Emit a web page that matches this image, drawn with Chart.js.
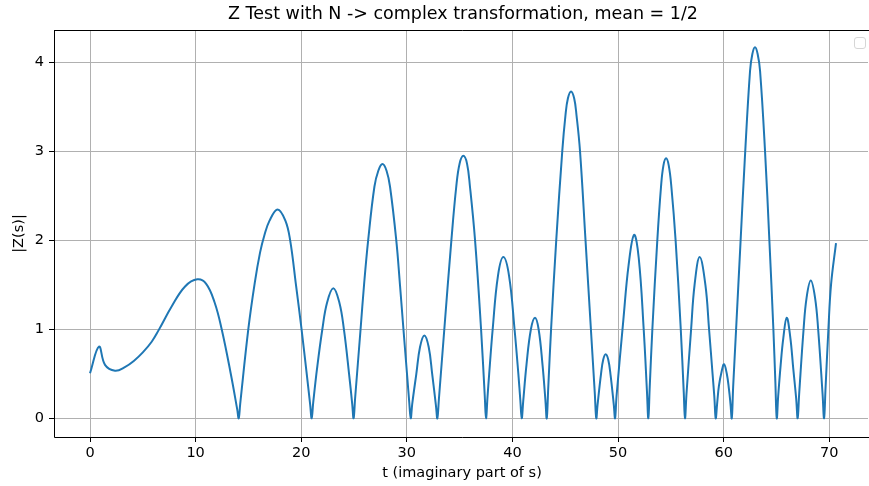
<!DOCTYPE html>
<html>
<head>
<meta charset="utf-8">
<script src="https://cdn.jsdelivr.net/npm/chart.js@4"></script>
<style>
  html, body { margin: 0; padding: 0; background: #fff; }
  #wrap { width: 869px; height: 486px; }
</style>
</head>
<body>
<div id="wrap"><canvas id="zChart" width="869" height="486"></canvas></div>
<script>
// values (t, |Z|)
const tValues = [
  0, 0.85, 1.42, 2.37, 3.3, 4.2, 5.0, 5.84, 6.5, 7.73, 9.0, 10.16, 11.0, 11.8, 12.47, 13.32, 13.94, 14.08,
  14.22, 14.99, 15.6, 16.1, 16.5, 17.0, 17.77, 18.5, 18.95, 19.5, 20.03, 20.5, 20.85, 20.99,
  21.13, 21.5, 22.0, 22.45, 23.04, 23.61, 24.04, 24.53, 24.83, 24.96,
  25.1, 25.62, 25.95, 26.34, 26.93, 27.3, 27.69, 28.08, 28.41, 29.0, 29.35, 29.68, 30.05, 30.23, 30.37,
  30.51, 30.9, 31.25, 31.66, 32.07, 32.4, 32.76, 32.89,
  33.04, 33.55, 34.22, 34.68, 35.0, 35.35, 35.7, 35.98, 36.46, 37.03, 37.38, 37.5,
  37.64, 37.8, 38.13, 38.63, 39.14, 39.68, 40.2, 40.56, 40.75, 40.88,
  41.02, 41.33, 41.75, 42.14, 42.48, 42.85, 43.12, 43.25,
  43.39, 43.66, 44.15, 44.72, 45.02, 45.25, 45.55, 45.85, 46.07, 46.4, 46.92, 47.43, 47.8, 47.94,
  48.06, 48.39, 48.6, 48.83, 49.07, 49.3, 49.6, 49.72,
  49.86, 50.5, 51.0, 51.52, 51.96, 52.43, 52.74, 52.87,
  53.0, 53.25, 53.72, 54.07, 54.3, 54.55, 54.8, 55.05, 55.45, 55.94, 56.22, 56.34,
  56.48, 56.92, 57.25, 57.73, 58.27, 58.62, 58.95, 59.12, 59.25,
  59.38, 59.55, 59.8, 60.04, 60.3, 60.5, 60.65, 60.77,
  60.9, 61.18, 61.6, 62.0, 62.5, 62.72, 62.97, 63.22, 63.45, 63.92, 64.33, 64.71, 64.9, 65.03,
  65.16, 65.4, 65.65, 65.97, 66.3, 66.6, 66.87, 67.01,
  67.15, 67.57, 67.85, 68.25, 68.66, 68.95, 69.37, 69.51,
  69.65, 69.92, 70.17, 70.64
];
const zValues = [
  0.506, 0.805, 0.60, 0.535, 0.575, 0.65, 0.74, 0.86, 0.99, 1.255, 1.48, 1.56, 1.51, 1.30, 1.0, 0.506, 0.1, 0,
  0.16, 1.0, 1.52, 1.86, 2.05, 2.22, 2.345, 2.22, 2.0, 1.5, 1.0, 0.52, 0.15, 0,
  0.17, 0.56, 1.0, 1.3, 1.46, 1.3, 1.0, 0.5, 0.16, 0,
  0.22, 1.0, 1.5, 2.0, 2.6, 2.78, 2.855, 2.78, 2.6, 2.0, 1.5, 1.0, 0.45, 0.18, 0,
  0.16, 0.5, 0.8, 0.93, 0.8, 0.5, 0.14, 0,
  0.22, 1.0, 2.0, 2.6, 2.86, 2.947, 2.86, 2.6, 2.0, 1.0, 0.25, 0,
  0.24, 0.5, 1.0, 1.6, 1.81, 1.6, 1.0, 0.5, 0.2, 0,
  0.19, 0.6, 1.0, 1.13, 1.0, 0.6, 0.21, 0,
  0.34, 1.0, 2.0, 3.0, 3.4, 3.59, 3.67, 3.59, 3.4, 3.0, 2.0, 1.0, 0.28, 0,
  0.15, 0.5, 0.66, 0.72, 0.66, 0.48, 0.15, 0,
  0.25, 1.1, 1.72, 2.06, 1.8, 1.0, 0.3, 0,
  0.35, 1.0, 2.0, 2.6, 2.84, 2.92, 2.84, 2.6, 2.0, 1.0, 0.3, 0,
  0.27, 1.0, 1.5, 1.81, 1.5, 1.0, 0.5, 0.24, 0,
  0.16, 0.36, 0.52, 0.607, 0.5, 0.33, 0.16, 0,
  0.35, 1.0, 1.98, 2.9, 3.9, 4.09, 4.165, 4.09, 3.9, 3.0, 2.0, 1.0, 0.4, 0,
  0.24, 0.6, 0.9, 1.13, 0.92, 0.55, 0.22, 0,
  0.27, 1.0, 1.35, 1.546, 1.35, 1.0, 0.27, 0,
  0.34, 1.0, 1.5, 1.966
];
const xTicks = [0, 10, 20, 30, 40, 50, 60, 70];
const yTicks = [0, 1, 2, 3, 4];

const titleText = 'Z Test with N -> complex transformation, mean = 1/2';
const xLabel = 't (imaginary part of s)';
const yLabel = '|Z(s)|';

const points = tValues.map((t, i) => ({ x: t, y: zValues[i] }));

// title, axis labels, frame and the empty legend box
const decorations = {
  id: 'decorations',
  afterDraw(chart) {
    const { ctx, chartArea: a } = chart;
    ctx.save();
    ctx.fillStyle = '#000';
    ctx.textAlign = 'center';
    ctx.textBaseline = 'middle';
    ctx.font = '17.5px "DejaVu Sans"';
    ctx.fillText(titleText, 463, 14);
    ctx.font = '14.5px "DejaVu Sans"';
    ctx.fillText(xLabel, 462, 473);
    ctx.translate(19, (a.top + a.bottom) / 2);
    ctx.rotate(-Math.PI / 2);
    ctx.fillText(yLabel, 0, 0);
    ctx.restore();

    ctx.save();
    ctx.strokeStyle = '#000';
    ctx.lineWidth = 1;
    ctx.beginPath();
    ctx.moveTo(a.left + 0.5, a.top + 0.5);
    ctx.lineTo(a.right + 5, a.top + 0.5);
    ctx.moveTo(a.left + 0.5, a.top);
    ctx.lineTo(a.left + 0.5, a.bottom + 0.5);
    ctx.lineTo(a.right + 5, a.bottom + 0.5);
    ctx.stroke();

    ctx.strokeStyle = '#d6d6d6';
    ctx.fillStyle = 'rgba(255,255,255,0.8)';
    ctx.beginPath();
    ctx.roundRect(854.5, 37.5, 11, 11, 2.5);
    ctx.fill();
    ctx.stroke();
    ctx.restore();
  }
};

const ctx = document.getElementById('zChart').getContext('2d');
const zChart = new Chart(ctx, {
  type: 'line',
  data: {
    datasets: [{
      data: points,
      borderColor: '#1f77b4',
      borderWidth: 2,
      pointRadius: 0,
      fill: false,
      tension: 0.4
    }]
  },
  options: {
    responsive: false,
    animation: false,
    layout: { padding: { top: 30, right: 1, left: 0, bottom: 0 } },
    plugins: {
      legend: { display: false },
      tooltip: { enabled: false }
    },
    scales: {
      x: {
        type: 'linear',
        min: -3.41,
        max: 73.67,
        afterBuildTicks: s => { s.ticks = xTicks.map(v => ({ value: v })); },
        afterFit: s => { s.height = 49; },
        border: { display: false },
        grid: { color: '#b0b0b0', lineWidth: 1, tickColor: '#000', tickLength: 5 },
        ticks: { color: '#000', padding: 3, maxRotation: 0, font: { family: 'DejaVu Sans', size: 14.5 } }
      },
      y: {
        min: -0.21,
        max: 4.36,
        afterBuildTicks: s => { s.ticks = yTicks.map(v => ({ value: v })); },
        afterFit: s => { s.width = 54; },
        border: { display: false },
        grid: { color: '#b0b0b0', lineWidth: 1, tickColor: '#000', tickLength: 5 },
        ticks: { color: '#000', padding: 5, font: { family: 'DejaVu Sans', size: 14.5 } }
      }
    }
  },
  plugins: [decorations]
});
</script>
</body>
</html>
